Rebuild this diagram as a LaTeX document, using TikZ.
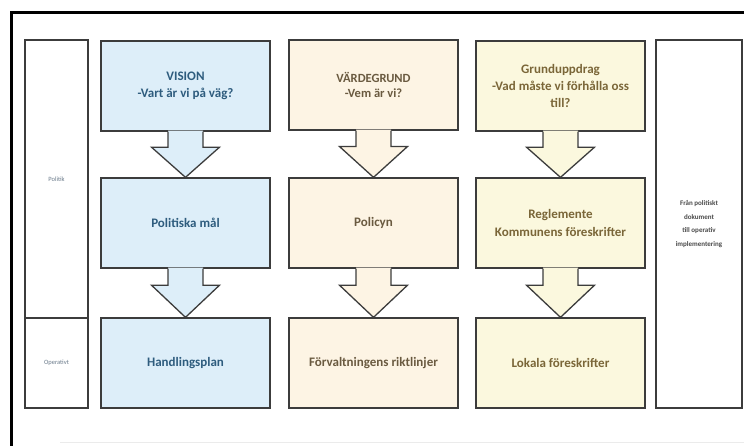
\documentclass[tikz,border=0pt]{standalone}
\usepackage{fontspec}
\setmainfont{Carlito}
\usetikzlibrary{calc}
\definecolor{bluefill}{HTML}{DDEEF9}
\definecolor{peachfill}{HTML}{FDF4E4}
\definecolor{yellfill}{HTML}{FBF8DE}
\definecolor{boxline}{HTML}{3C3C3C}
\definecolor{bluetext}{HTML}{2E5C7E}
\definecolor{browntext}{HTML}{6A5A40}
\definecolor{olivetext}{HTML}{7A6638}
\definecolor{sidetext}{HTML}{6C7C8C}
\definecolor{sidebold}{HTML}{4A4A4A}
\newcommand\blockarrow[3]{%
  \coordinate (s) at ($(#1.south)!0.34!(#2.north)$);
  \fill[#3] ([xshift=-17.5pt,yshift=1pt]#1.south) -- ([xshift=-17.5pt]s) -- ([xshift=-34pt]s) -- (#2.north) -- ([xshift=34pt]s) -- ([xshift=17.5pt]s) -- ([xshift=17.5pt,yshift=1pt]#1.south) -- cycle;
  \draw[arrowline] ([xshift=-17.5pt]#1.south) -- ([xshift=-17.5pt]s) -- ([xshift=-34pt]s) -- (#2.north) -- ([xshift=34pt]s) -- ([xshift=17.5pt]s) -- ([xshift=17.5pt]#1.south);
}
\begin{document}
\begin{tikzpicture}[x=1pt,y=-1pt,
  box/.style={draw=boxline, line width=1.3pt, minimum width=169pt, minimum height=90pt,
    inner sep=0pt, align=center, font=\bfseries\fontsize{13}{17.5}\selectfont},
  bluebox/.style={box, fill=bluefill, text=bluetext},
  peachbox/.style={box, fill=peachfill, text=browntext},
  yellbox/.style={box, fill=yellfill, text=olivetext},
  sidebox/.style={draw=boxline, line width=1.3pt, fill=white, inner sep=0pt, align=center},
  arrowline/.style={draw=boxline, line width=1.3pt, line join=miter},
  frame/.style={line width=3pt, black}]
\useasboundingbox (0,0) rectangle (744,446);
\fill[white] (0,0) rectangle (744,446);
\draw[frame] (11,446) -- (11,13) -- (744,13);
\draw[black!8, line width=0.8pt] (60,442) -- (744,442);

% side column left
\node[sidebox, minimum width=63pt, minimum height=278pt, text=sidetext, font=\fontsize{6.5}{8}\selectfont] (pol) at (56.5,179) {Politik};
\node[sidebox, minimum width=63pt, minimum height=90pt, text=sidetext, font=\fontsize{6.5}{8}\selectfont] (ope) at (56.5,363) {Operativt};

% side column right
\node[sidebox, minimum width=86pt, minimum height=368pt, text=sidebold, font=\bfseries\fontsize{7}{13.5}\selectfont] (ri) at (699,224) {Från politiskt\\dokument\\till operativ\\implementering};

% column 1
\node[bluebox] (v1) at (185.5,86) {VISION\\-Vart är vi på väg?};
\node[bluebox] (v2) at (185.5,223) {Politiska mål};
\node[bluebox] (v3) at (185.5,363) {Handlingsplan};
\blockarrow{v1}{v2}{bluefill}
\blockarrow{v2}{v3}{bluefill}

% column 2
\node[peachbox, font=\bfseries\fontsize{12.5}{15.5}\selectfont] (p1) at (373.5,85) {VÄRDEGRUND\\-Vem är vi?};
\node[peachbox] (p2) at (373.5,223) {Policyn};
\node[peachbox] (p3) at (373.5,363) {Förvaltningens riktlinjer};
\blockarrow{p1}{p2}{peachfill}
\blockarrow{p2}{p3}{peachfill}

% column 3
\node[yellbox, font=\bfseries\fontsize{13}{17}\selectfont] (y1) at (560.5,86) {Grunduppdrag\\-Vad måste vi förhålla oss\\till?};
\node[yellbox] (y2) at (560.5,223) {Reglemente\\Kommunens föreskrifter};
\node[yellbox] (y3) at (560.5,363) {Lokala föreskrifter};
\blockarrow{y1}{y2}{yellfill}
\blockarrow{y2}{y3}{yellfill}
\end{tikzpicture}
\end{document}
